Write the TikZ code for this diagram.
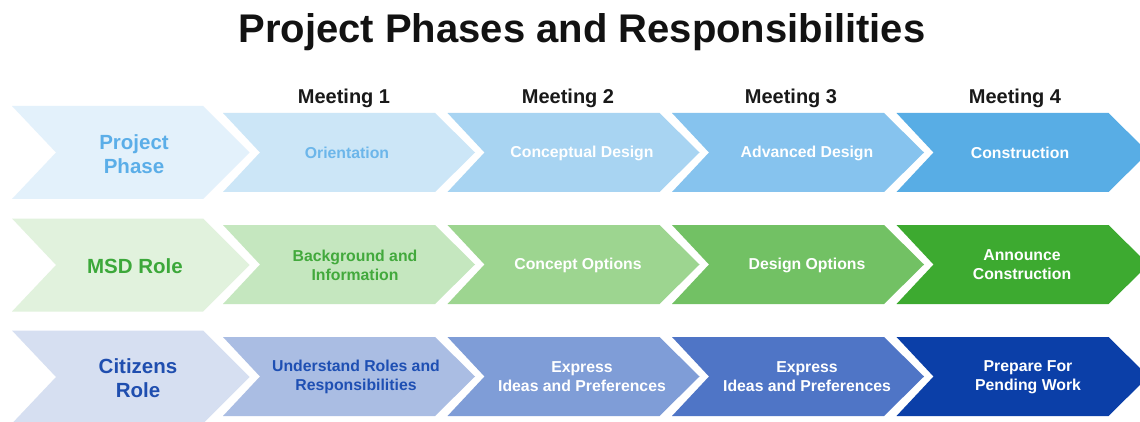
\documentclass[tikz,border=0pt]{standalone}
\usepackage{fontspec}
\setmainfont{Liberation Sans}
\definecolor{tA0}{HTML}{E3F1FB}\definecolor{tA1}{HTML}{CCE6F7}\definecolor{tA2}{HTML}{A8D4F2}\definecolor{tA3}{HTML}{86C3EE}\definecolor{tA4}{HTML}{58ADE5}
\definecolor{tB0}{HTML}{E1F2DD}\definecolor{tB1}{HTML}{C5E7BF}\definecolor{tB2}{HTML}{9DD590}\definecolor{tB3}{HTML}{72C164}\definecolor{tB4}{HTML}{3DAA30}
\definecolor{tC0}{HTML}{D6DFF1}\definecolor{tC1}{HTML}{AABDE3}\definecolor{tC2}{HTML}{7F9DD7}\definecolor{tC3}{HTML}{4F75C6}\definecolor{tC4}{HTML}{0B3FA8}
\definecolor{txA}{HTML}{5BAEE8}\definecolor{txAa}{HTML}{6CB6EA}
\definecolor{txB}{HTML}{3CA83A}\definecolor{txBa}{HTML}{42A93C}
\definecolor{txC}{HTML}{1F4EAF}\definecolor{txCa}{HTML}{1E4FB3}
% #1 left x, #2 centre y, #3 half height, #4 notch depth, #5 body width, #6 tip depth, #7 colour
\newcommand\mychev[7]{%
  \fill[#7] (#1,#2-#3) -- ++(#5,0) -- ++(#6,#3) -- ++(-#6,#3) -- ++(-#5,0) -- ++(#4,-#3) -- cycle;}
\begin{document}
\begin{tikzpicture}[x=1pt,y=-1pt,
  titlestyle/.style={font=\fontsize{40}{44}\selectfont\bfseries, text=black!93, inner sep=0pt},
  meetstyle/.style={font=\fontsize{20}{22}\selectfont\bfseries, text=black!90, inner sep=0pt},
  rowlbl/.style={font=\fontsize{20.5}{24}\selectfont\bfseries, align=center, inner sep=0pt},
  celltxt/.style={font=\fontsize{15.8}{19}\selectfont\bfseries, align=center, inner sep=0pt, text=white}]
\useasboundingbox (0,0) rectangle (1140,422);
\fill[white] (0,0) rectangle (1140,422);
\clip (0,0) rectangle (1140,422);
% title
\node[titlestyle, anchor=base] (title) at (582,43) {Project Phases and Responsibilities};
% meeting headers
\node[meetstyle, anchor=base] (m1) at (344,104) {Meeting 1};
\node[meetstyle, anchor=base] (m2) at (568,104) {Meeting 2};
\node[meetstyle, anchor=base] (m3) at (791,104) {Meeting 3};
\node[meetstyle, anchor=base] (m4) at (1015,104) {Meeting 4};
% row 1
\mychev{12}{152.5}{46.5}{44}{191}{46.5}{tA0}
\mychev{223}{152.5}{39.5}{37}{212}{40}{tA1}
\mychev{447.5}{152.5}{39.5}{37}{212}{40}{tA2}
\mychev{672}{152.5}{39.5}{37}{212}{40}{tA3}
\mychev{896.5}{152.5}{39.5}{37}{212}{40}{tA4}
% row 2
\mychev{12}{265}{46.5}{44}{191}{46.5}{tB0}
\mychev{223}{264.5}{39.5}{37}{212}{40}{tB1}
\mychev{447.5}{264.5}{39.5}{37}{212}{40}{tB2}
\mychev{672}{264.5}{39.5}{37}{212}{40}{tB3}
\mychev{896.5}{264.5}{39.5}{37}{212}{40}{tB4}
% row 3
\mychev{12}{377}{46.5}{44}{191}{46.5}{tC0}
\mychev{223}{376.5}{39.5}{37}{212}{40}{tC1}
\mychev{447.5}{376.5}{39.5}{37}{212}{40}{tC2}
\mychev{672}{376.5}{39.5}{37}{212}{40}{tC3}
\mychev{896.5}{376.5}{39.5}{37}{212}{40}{tC4}
% row labels
\node[rowlbl, text=txA] (rA) at (134,154) {Project\\Phase};
\node[rowlbl, text=txB] (rB) at (135,266) {MSD Role};
\node[rowlbl, text=txC] (rC) at (138,378) {Citizens\\Role};
% row 1 texts
\node[celltxt, text=txAa] (a1) at (347,153) {Orientation};
\node[celltxt] (a2) at (582,153) {Conceptual Design};
\node[celltxt] (a3) at (807,153) {Advanced Design};
\node[celltxt] (a4) at (1020,153) {Construction};
% row 2 texts
\node[celltxt, text=txBa] (b1) at (355,265) {Background and\\Information};
\node[celltxt] (b2) at (578,265) {Concept Options};
\node[celltxt] (b3) at (807,265) {Design Options};
\node[celltxt] (b4) at (1022,265) {Announce\\Construction};
% row 3 texts
\node[celltxt, text=txCa] (c1) at (356,377) {Understand Roles and\\Responsibilities};
\node[celltxt] (c2) at (582,377) {Express\\Ideas and Preferences};
\node[celltxt] (c3) at (807,377) {Express\\Ideas and Preferences};
\node[celltxt] (c4) at (1028,377) {Prepare For\\Pending Work};
\end{tikzpicture}
\end{document}
